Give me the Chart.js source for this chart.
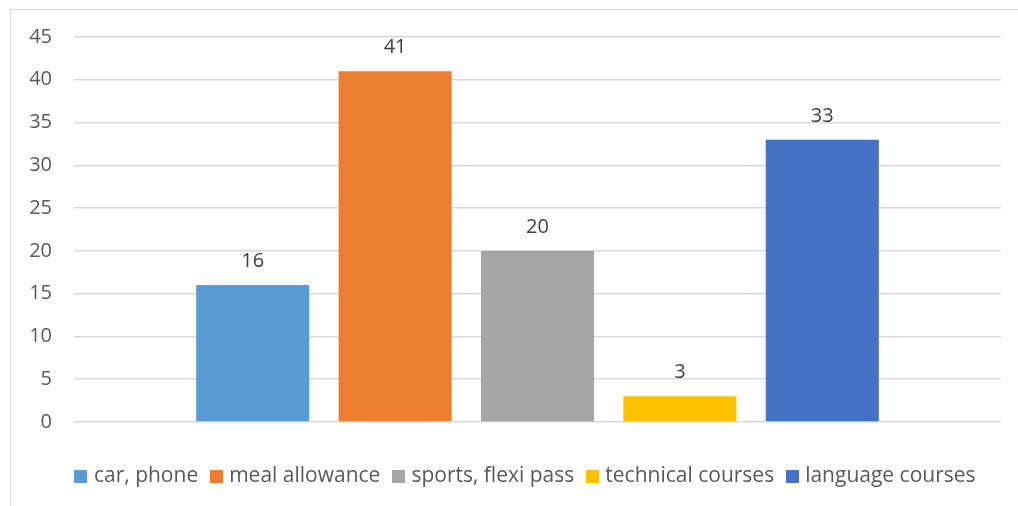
<!DOCTYPE html>
<html>
<head>
<meta charset="utf-8">
<script src="https://cdn.jsdelivr.net/npm/chart.js@4.4.1/dist/chart.umd.min.js"></script>
<style>
  html, body { margin: 0; padding: 0; background: #ffffff; }
  #wrap { position: relative; width: 1018px; height: 506px; overflow: hidden; background: #fff; }
  #frame { position: absolute; left: 10px; top: 9px; width: 1030px; height: 520px; border: 1px solid #d9d9d9; box-sizing: border-box; }
  #c { position: absolute; left: 0; top: 0; }
</style>
</head>
<body>
<div id="wrap">
  <div id="frame"></div>
  <canvas id="c" width="1018" height="506"></canvas>
</div>
<script>
const categories = ['car, phone', 'meal allowance', 'sports, flexi pass', 'technical courses', 'language courses'];
const values = [16, 41, 20, 3, 33];
const colors = ['#5B9BD5', '#ED7D31', '#A5A5A5', '#FFC000', '#4472C4'];
const yTicks = [0, 5, 10, 15, 20, 25, 30, 35, 40, 45];

const FONT = "'Open Sans', 'DejaVu Sans', sans-serif";

function swatch(color) {
  const cv = document.createElement('canvas');
  cv.width = 13; cv.height = 13;
  const g = cv.getContext('2d');
  g.fillStyle = color;
  g.fillRect(0, 0, 13, 13);
  return cv;
}

const valueLabels = {
  id: 'valueLabels',
  afterDatasetsDraw(chart) {
    const ctx = chart.ctx;
    ctx.save();
    ctx.font = "20px " + FONT;
    ctx.fillStyle = '#404040';
    ctx.textAlign = 'center';
    ctx.textBaseline = 'alphabetic';
    chart.data.datasets.forEach((ds, i) => {
      const meta = chart.getDatasetMeta(i);
      meta.data.forEach((bar, j) => {
        ctx.fillText(String(ds.data[j]), bar.x, bar.y - 18);
      });
    });
    ctx.restore();
  }
};

// shift the centred legend row to where the reference has it
const legendShift = {
  id: 'legendShift',
  afterLayout(chart) {
    if (chart.legend) {
      chart.legend.left += 13;
      chart.legend.right += 13;
    }
  }
};

function build() {
  const datasets = categories.map((name, i) => ({
    label: name,
    data: [values[i]],
    backgroundColor: colors[i],
    borderWidth: 0,
    categoryPercentage: 0.768,
    barPercentage: 0.794
  }));

  new Chart(document.getElementById('c'), {
    type: 'bar',
    data: { labels: [''], datasets },
    options: {
      responsive: false,
      animation: false,
      devicePixelRatio: 1,
      layout: { padding: { left: 27, right: 17, top: 37, bottom: 9 } },
      plugins: {
        legend: {
          position: 'bottom',
          labels: {
            font: { family: FONT, size: 21 },
            color: '#595959',
            usePointStyle: true,
            pointStyleWidth: 5,
            boxHeight: 13,
            padding: 15.5,
            generateLabels(chart) {
              return chart.data.datasets.map((ds, i) => ({
                text: ds.label,
                fillStyle: ds.backgroundColor,
                strokeStyle: ds.backgroundColor,
                lineWidth: 0,
                pointStyle: swatch(ds.backgroundColor),
                hidden: false,
                datasetIndex: i,
                fontColor: '#595959'
              }));
            }
          }
        },
        tooltip: { enabled: false },
        title: { display: false }
      },
      scales: {
        x: {
          grid: { display: false, drawTicks: false },
          border: { display: false },
          ticks: { display: false },
          title: { display: true, text: '', font: { size: 10, lineHeight: 1 }, padding: { top: 18.5, bottom: 0 } }
        },
        y: {
          min: 0,
          max: 45,
          afterBuildTicks(scale) { scale.ticks = yTicks.map(v => ({ value: v })); },
          afterFit(scale) { scale.width = 47; },
          grid: { color: '#d9d9d9', lineWidth: 1.5, drawTicks: false },
          border: { display: false },
          ticks: {
            color: '#595959',
            font: { family: FONT, size: 20 },
            padding: 22
          }
        }
      }
    },
    plugins: [valueLabels, legendShift]
  });
}

if (document.fonts && document.fonts.load) {
  document.fonts.load("20px 'Open Sans'").then(build, build);
} else {
  build();
}
</script>
</body>
</html>
